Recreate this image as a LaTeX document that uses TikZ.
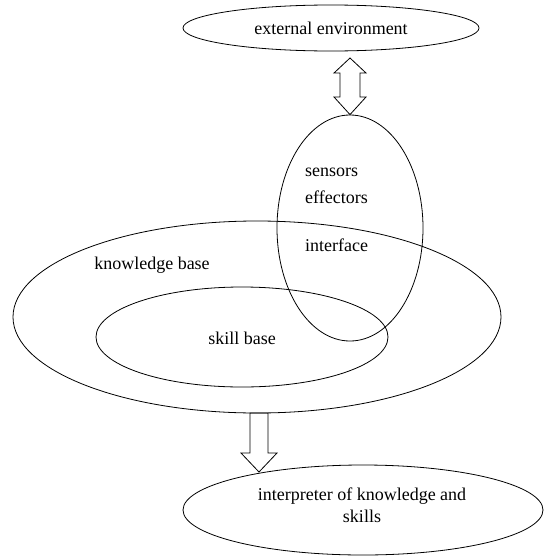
\documentclass[tikz,border=0pt]{standalone}
\usepackage{fontspec}
\setmainfont{Liberation Serif}
\usetikzlibrary{shapes.geometric}
\begin{document}
\begin{tikzpicture}[x=1pt,y=-1pt,
  oval/.style={draw,ellipse,line width=0.8pt,inner sep=0pt},
  lbl/.style={font=\fontsize{18}{21}\selectfont,inner sep=0pt},
  bigarrow/.style={draw,line width=0.8pt,line join=miter}]
\useasboundingbox (0,0) rectangle (545,557);
% ellipses
\node[oval,minimum width=296pt,minimum height=46pt,lbl] (ext) at (331,28) {external environment};
\node[oval,minimum width=146pt,minimum height=226pt] (iface) at (350,228) {};
\node[oval,minimum width=488pt,minimum height=192pt] (kb) at (257,317) {};
\node[oval,minimum width=292pt,minimum height=100pt] (sb) at (242,337) {};
\node[oval,minimum width=360pt,minimum height=90pt] (interp) at (363,510) {};
% labels
\node[lbl,align=center] (interpl) at (362,505) {interpreter of knowledge and\\[1pt]skills};
\node[lbl,anchor=west] (sens) at (305,172) {sensors};
\node[lbl,anchor=west] (eff) at (305,197) {effectors};
\node[lbl,anchor=west] (intf) at (305,245) {interface};
\node[lbl] (kbl) at (152,265) {knowledge base};
\node[lbl] (sbl) at (242,338) {skill base};
% double arrow between external environment and interface
\coordinate (dtop) at (350,58);
\coordinate (dbot) at (iface.north);
\draw[bigarrow] (dtop) -- ++(16,15) -- ++(-6,0) -- (360,97) -- ++(6,0) -- (dbot)
  -- (334,97) -- ++(6,0) -- (340,73) -- ++(-6,0) -- cycle;
% down arrow from knowledge base to interpreter
\coordinate (atip) at (259,472);
\draw[bigarrow] (250,413) -- (268,413) -- (268,453) -- (277,453) -- (atip)
  -- (241,453) -- (250,453) -- cycle;
\end{tikzpicture}
\end{document}
